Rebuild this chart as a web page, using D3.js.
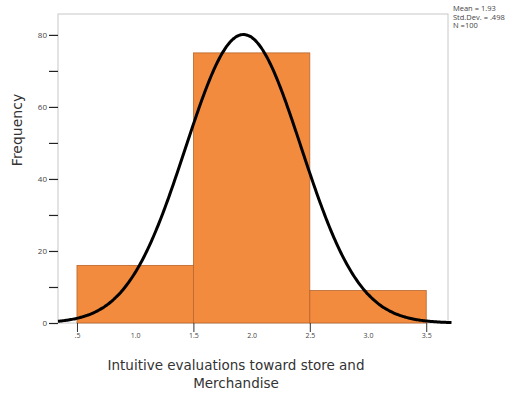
<!DOCTYPE html>
<html>
<head>
<meta charset="utf-8">
<script src="https://cdn.jsdelivr.net/npm/d3@7"></script>
<style>
  body { margin: 0; background: #fff; }
  svg { display: block; }
  text { font-family: "Open Sans", "DejaVu Sans", sans-serif; }
  .title { font-family: "DejaVu Sans", sans-serif; }
</style>
</head>
<body>
<svg id="drawing_region"></svg>
<script>

// histogram bins (lower edge, upper edge) and counts
const binStarts = [0.5, 1.5, 2.5];
const binEnds = [1.5, 2.5, 3.5];
const counts = [16, 75, 9];

// stats shown in the corner
const statLabels = ["Mean = 1.93", "Std.Dev. = .498", "N =100"];
const mean = 1.93;
const sd = 0.498;
const n = 100;

// tick labels
const xTicks = [0.5, 1.0, 1.5, 2.0, 2.5, 3.0, 3.5];
const xTickLabels = [".5", "1.0", "1.5", "2.0", "2.5", "3.0", "3.5"];
const xTickMarks = [0.5, 1.5, 2.5, 3.5];
const yTicks = [0, 20, 40, 60, 80];
const yMinor = [10, 30, 50, 70];

const config = {
    width: 519,
    height: 394,
    margin: {top: 14, right: 71, bottom: 71, left: 58}
};

const svg = d3.select('#drawing_region')
    .attr('width', config.width)
    .attr('height', config.height);

const inner_width = config.width - config.margin.left - config.margin.right;
const inner_height = config.height - config.margin.top - config.margin.bottom;

const chart = svg.append('g')
    .attr('transform', `translate(${config.margin.left}, ${config.margin.top})`);

const xscale = d3.scaleLinear()
    .domain([0.337, 3.687])
    .range([0, inner_width]);

const yscale = d3.scaleLinear()
    .domain([0, 85.8])
    .range([inner_height, 0]);

// frame
chart.append('rect')
    .attr('x', 0).attr('y', 0)
    .attr('width', inner_width).attr('height', inner_height)
    .attr('fill', 'none')
    .attr('stroke', '#c8c8c8')
    .attr('stroke-width', 1);

// bars
const bins = counts.map((c, i) => ({x0: binStarts[i], x1: binEnds[i], count: c}));
chart.selectAll('rect.bar').data(bins).enter()
    .append('rect')
    .attr('class', 'bar')
    .attr('x', d => xscale(d.x0))
    .attr('y', d => yscale(d.count))
    .attr('width', d => xscale(d.x1) - xscale(d.x0))
    .attr('height', d => yscale(0) - yscale(d.count))
    .attr('fill', '#f28b3e')
    .attr('stroke', '#b8652c')
    .attr('stroke-width', 0.8);

// y axis
const yaxis = d3.axisLeft(yscale)
    .tickValues(yTicks)
    .tickSize(9)
    .tickPadding(2)
    .tickFormat(d3.format('d'));
const yg = chart.append('g').call(yaxis);
yg.select('.domain').remove();
yg.selectAll('.tick line').attr('stroke', '#222').attr('stroke-width', 1.2);
yg.selectAll('.tick text').attr('font-size', 8).attr('fill', '#444');

const ym = d3.axisLeft(yscale).tickValues(yMinor).tickSize(9).tickFormat('');
const ymg = chart.append('g').call(ym);
ymg.select('.domain').remove();
ymg.selectAll('.tick line').attr('stroke', '#222').attr('stroke-width', 1.2);

// x axis
const xaxis = d3.axisBottom(xscale)
    .tickValues(xTicks)
    .tickSize(0)
    .tickPadding(10)
    .tickFormat((d, i) => xTickLabels[i]);
const xg = chart.append('g')
    .attr('transform', `translate(0, ${inner_height})`)
    .call(xaxis);
xg.select('.domain').remove();
xg.selectAll('.tick text').attr('font-size', 7).attr('fill', '#444');

const xm = d3.axisBottom(xscale).tickValues(xTickMarks).tickSize(9).tickFormat('');
const xmg = chart.append('g')
    .attr('transform', `translate(0, ${inner_height})`)
    .call(xm);
xmg.select('.domain').remove();
xmg.selectAll('.tick line').attr('stroke', '#333').attr('stroke-width', 1);

// normal curve from mean / sd / n (bin width 1)
const binWidth = binEnds[0] - binStarts[0];
const pdf = x => n * binWidth / (sd * Math.sqrt(2 * Math.PI)) * Math.exp(-0.5 * ((x - mean) / sd) ** 2);
const curveX = d3.range(0.337, 3.72, 0.01);
const line = d3.line()
    .x(d => xscale(d))
    .y(d => yscale(pdf(d)))
    .curve(d3.curveBasis);
chart.append('path')
    .datum(curveX)
    .attr('d', line)
    .attr('fill', 'none')
    .attr('stroke', '#000')
    .attr('stroke-width', 3);

// axis titles
svg.append('text')
    .attr('class', 'title')
    .attr('transform', `translate(22, 130) rotate(-90)`)
    .attr('text-anchor', 'middle')
    .attr('font-size', 14)
    .attr('fill', '#333')
    .text('Frequency');

svg.append('text')
    .attr('class', 'title')
    .attr('x', 236).attr('y', 370)
    .attr('text-anchor', 'middle')
    .attr('font-size', 13.5)
    .attr('fill', '#333')
    .text('Intuitive evaluations toward store and');
svg.append('text')
    .attr('class', 'title')
    .attr('x', 236).attr('y', 388)
    .attr('text-anchor', 'middle')
    .attr('font-size', 13.5)
    .attr('fill', '#333')
    .text('Merchandise');

// stats box text
svg.selectAll('text.stat').data(statLabels).enter()
    .append('text')
    .attr('class', 'stat')
    .attr('x', 453)
    .attr('y', (d, i) => 11 + i * 8.5)
    .attr('font-size', 7.5)
    .attr('fill', '#444')
    .text(d => d);

</script>
</body>
</html>
